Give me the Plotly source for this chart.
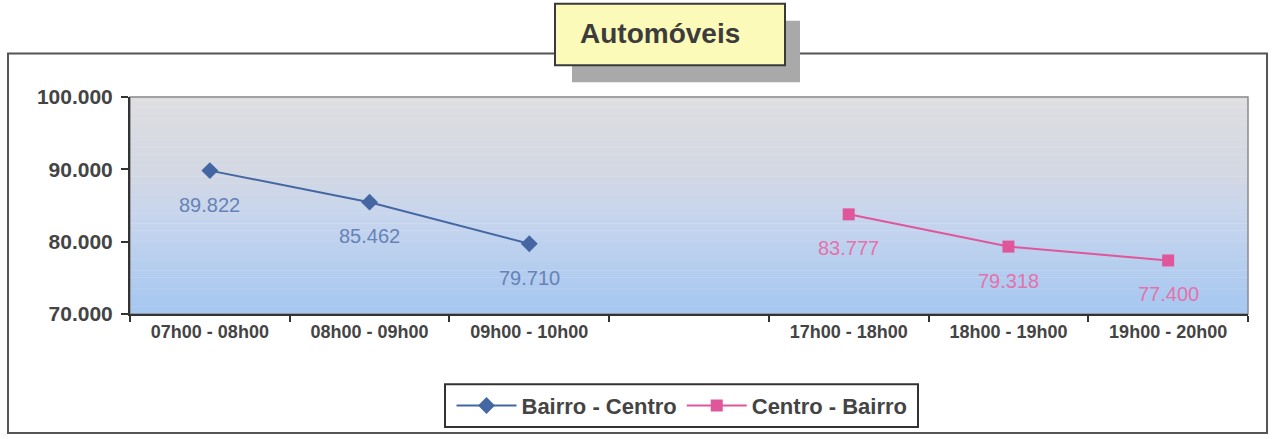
import plotly.graph_objects as go

categories = ["07h00 - 08h00", "08h00 - 09h00", "09h00 - 10h00", " ",
              "17h00 - 18h00", "18h00 - 19h00", "19h00 - 20h00"]
bc_x = ["07h00 - 08h00", "08h00 - 09h00", "09h00 - 10h00"]
bc_y = [89822, 85462, 79710]
cb_x = ["17h00 - 18h00", "18h00 - 19h00", "19h00 - 20h00"]
cb_y = [83777, 79318, 77400]
y_ticks = [70000, 80000, 90000, 100000]

FONT = "Arial, Liberation Sans, sans-serif"
BLUE = "#4467a3"
PINK = "#e0569b"

fig = go.Figure()
fig.add_trace(go.Scatter(x=bc_x, y=bc_y, mode="lines+markers", name="Bairro - Centro",
                         line=dict(color=BLUE, width=2),
                         marker=dict(symbol="diamond", size=13, color=BLUE)))
fig.add_trace(go.Scatter(x=cb_x, y=cb_y, mode="lines+markers", name="Centro - Bairro",
                         line=dict(color=PINK, width=2),
                         marker=dict(symbol="square", size=12, color=PINK)))

def fmt(v):
    return f"{v:,}".replace(",", ".")

annotations = []
for xs, ys, col in [(bc_x, bc_y, "#6682b6"), (cb_x, cb_y, "#e472ac")]:
    for xv, yv in zip(xs, ys):
        annotations.append(dict(x=xv, y=yv, xref="x", yref="y", text=fmt(yv),
                                showarrow=False, yshift=-34,
                                font=dict(family=FONT, size=20, color=col)))

# pixel -> paper helpers (plot area: x 130..1248, y 97..316)
def px(x):
    return (x - 130) / 1118.0
def py(y):
    return (316 - y) / 219.0

annotations.append(dict(x=px(660), y=py(33), xref="paper", yref="paper",
                        xanchor="center", yanchor="middle",
                        text="<b>Automóveis</b>", showarrow=False,
                        font=dict(family=FONT, size=28, color="#3c3c3c")))

shapes = []
# gradient background
stops = [(0.0, (165, 199, 240)), (0.45, (199, 213, 237)), (0.68, (212, 216, 226)), (1.0, (222, 222, 226))]
def col_at(t):
    for (t0, c0), (t1, c1) in zip(stops[:-1], stops[1:]):
        if t0 <= t <= t1:
            f = (t - t0) / (t1 - t0)
            return tuple(int(round(a + (b - a) * f)) for a, b in zip(c0, c1))
    return stops[-1][1]
N = 60
for i in range(N):
    t0 = i / N
    t1 = (i + 1) / N
    c = col_at((t0 + t1) / 2)
    shapes.append(dict(type="rect", xref="paper", yref="paper", x0=0, x1=1, y0=t0, y1=t1 + 0.002,
                       fillcolor=f"rgb{c}", line=dict(width=0), layer="below"))
# plot area border
shapes.append(dict(type="rect", xref="paper", yref="paper", x0=0, x1=1, y0=0, y1=1,
                   line=dict(color="#8a8a8a", width=1.5), layer="below"))
# outer border
shapes.append(dict(type="rect", xref="paper", yref="paper", x0=px(8), x1=px(1267), y0=py(436), y1=py(53),
                   line=dict(color="#555555", width=2), layer="above"))
# title shadow
shapes.append(dict(type="rect", xref="paper", yref="paper", x0=px(572), x1=px(800), y0=py(82), y1=py(20),
                   fillcolor="#a9a9a9", line=dict(width=0), layer="above"))
# title box
shapes.append(dict(type="rect", xref="paper", yref="paper", x0=px(555), x1=px(785), y0=py(65), y1=py(3),
                   fillcolor="#fcfab8", line=dict(color="#3a3a3a", width=2), layer="above"))
# legend box
shapes.append(dict(type="rect", xref="paper", yref="paper", x0=px(445), x1=px(918), y0=py(430), y1=py(387),
                   fillcolor="white", line=dict(color="#333333", width=2), layer="above"))

fig.update_layout(
    width=1273, height=439,
    margin=dict(l=130, r=25, t=97, b=123),
    paper_bgcolor="white",
    plot_bgcolor="rgba(0,0,0,0)",
    separators=",.",
    showlegend=True,
    legend=dict(orientation="h", x=px(682), y=py(408.5), xanchor="center", yanchor="middle",
                bgcolor="rgba(0,0,0,0)", borderwidth=0, itemwidth=60,
                font=dict(family=FONT, size=22, color="#444444", weight="bold")),
    xaxis=dict(type="category", categoryorder="array", categoryarray=categories,
               range=[-0.5, 6.5], showline=True, linecolor="#333333", linewidth=2,
               ticks="outside", tickson="boundaries", ticklen=6, tickwidth=2, tickcolor="#333333",
               showgrid=False, zeroline=False,
               tickfont=dict(family=FONT, size=18, color="#444444", weight="bold")),
    yaxis=dict(range=[70000, 100000], tickvals=y_ticks, tickformat=",d",
               showline=True, linecolor="#333333", linewidth=2,
               ticks="outside", ticklen=7, tickwidth=2, tickcolor="#333333",
               ticklabelstandoff=4,
               showgrid=False, zeroline=False,
               tickfont=dict(family=FONT, size=21, color="#444444", weight="bold")),
    shapes=shapes,
    annotations=annotations,
)

fig.write_html("out.html", config={"displayModeBar": False},
               post_script="document.body.style.margin='0px';")
